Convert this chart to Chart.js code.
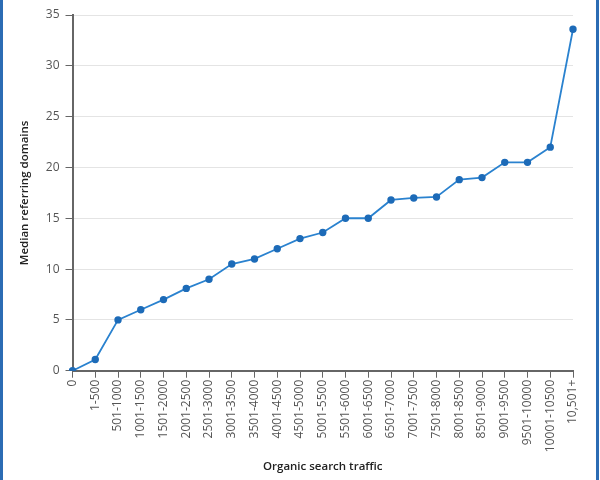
<!DOCTYPE html>
<html>
<head>
<meta charset="utf-8">
<script src="https://cdn.jsdelivr.net/npm/chart.js@4"></script>
<style>
  body { margin: 0; background: #fff; }
  #wrap { position: relative; width: 600px; height: 480px; }
  .edge { position: absolute; top: 0; bottom: 0; width: 3px; background: #2b6cb4; }
</style>
</head>
<body>
<div id="wrap">
  <canvas id="chart1" width="600" height="480"></canvas>
  <div class="edge" style="left:0"></div>
  <div class="edge" style="left:596px"></div>
</div>
<script>
const categories = ['0', '1-500', '501-1000', '1001-1500', '1501-2000', '2001-2500',
  '2501-3000', '3001-3500', '3501-4000', '4001-4500', '4501-5000', '5001-5500',
  '5501-6000', '6001-6500', '6501-7000', '7001-7500', '7501-8000', '8001-8500',
  '8501-9000', '9001-9500', '9501-10000', '10001-10500', '10,501+']
const medianDomains = [0, 1.1, 5, 6, 7, 8.1, 9, 10.5, 11, 12, 13, 13.6,
  15, 15, 16.8, 17, 17.1, 18.8, 19, 20.5, 20.5, 22, 33.6]
const yTicks = [0, 5, 10, 15, 20, 25, 30, 35]

Chart.defaults.font.family = '"Open Sans", sans-serif'

let chart = new Chart('chart1', {
    type: 'line',
    data: {
        labels: categories,
        datasets: [
            {
                data: medianDomains,
                borderColor: '#2a82cf',
                borderWidth: 1.8,
                backgroundColor: '#1d6bb8',
                pointBackgroundColor: '#1d6bb8',
                pointBorderColor: '#1d6bb8',
                pointRadius: 2.8,
                tension: 0
            }
        ]
    },
    options: {
        responsive: false,
        animation: false,
        layout: {
            padding: { top: 15, right: 27, left: 18, bottom: 6 }
        },
        plugins: {
            legend: { display: false },
            tooltip: { enabled: false }
        },
        scales: {
            x: {
                offset: false,
                grid: {
                    drawOnChartArea: false,
                    tickColor: '#666',
                    tickLength: 7
                },
                border: { color: '#666', width: 2 },
                ticks: {
                    color: '#555',
                    font: { size: 12 },
                    maxRotation: 90,
                    minRotation: 90,
                    autoSkip: false,
                    padding: 2
                },
                title: {
                    display: true,
                    text: 'Organic search traffic',
                    color: '#222',
                    font: { size: 11.5, weight: '600' },
                    padding: { top: 6, bottom: 0 }
                }
            },
            y: {
                min: 0,
                max: 35,
                afterBuildTicks: axis => {
                    axis.ticks = yTicks.map(v => ({ value: v }))
                },
                grid: {
                    color: '#e4e4e4',
                    tickColor: '#666',
                    tickLength: 7
                },
                border: { color: '#666', width: 2 },
                ticks: {
                    color: '#555',
                    font: { size: 12 },
                    padding: 6
                },
                title: {
                    display: true,
                    text: 'Median referring domains',
                    color: '#222',
                    font: { size: 11.5, weight: '600' },
                    padding: { top: 0, bottom: 8 }
                }
            }
        }
    }
})
</script>
</body>
</html>
